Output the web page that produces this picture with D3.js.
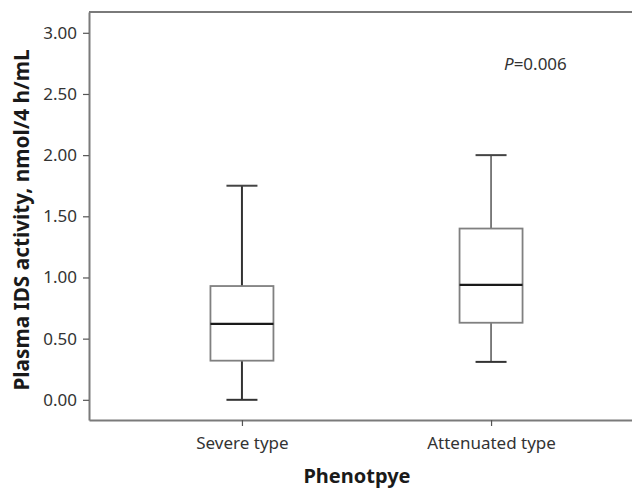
<!DOCTYPE html>
<html>
<head>
<meta charset="utf-8">
<script src="https://cdn.jsdelivr.net/npm/d3@7"></script>
<style>
  body { margin: 0; background: #fff; }
  svg { display: block; }
</style>
</head>
<body>
<svg id="chart"></svg>
<script>
// DATA
const categories = ["Severe type", "Attenuated type"];
const whiskerLow = [0.00, 0.31];
const q1 = [0.32, 0.63];
const medians = [0.62, 0.94];
const q3 = [0.93, 1.40];
const whiskerHigh = [1.75, 2.00];
const yTicks = [0, 0.5, 1, 1.5, 2, 2.5, 3];
const pLabel = "0.006";

// SIZE
const W = 632, H = 489;
const margin = { top: 12, right: -12, bottom: 69, left: 89 };
const width = W - margin.left - margin.right;
const height = H - margin.top - margin.bottom;

const svg = d3.select("#chart").attr("width", W).attr("height", H);
const g = svg.append("g").attr("transform", `translate(${margin.left},${margin.top})`);

const font = "'Noto Sans', 'DejaVu Sans', sans-serif";

// SCALES
const x = d3.scalePoint().domain(categories).range([0, width]).padding(0.614);
const y = d3.scaleLinear().domain([-0.165, 3.17]).range([height, 0]);

// frame (top line)
g.append("line")
    .attr("x1", 0).attr("x2", width)
    .attr("y1", 0).attr("y2", 0)
    .attr("stroke", "#7a7a7a").attr("stroke-width", 2);

// Y axis
const yAxis = g.append("g")
    .call(d3.axisLeft(y).tickValues(yTicks).tickFormat(d3.format(".2f"))
        .tickSize(6).tickSizeOuter(0).tickPadding(6));
yAxis.select(".domain").attr("stroke", "#7a7a7a").attr("stroke-width", 2);
yAxis.selectAll(".tick line").attr("stroke", "#555").attr("stroke-width", 1.2);
yAxis.selectAll("text")
    .attr("font-family", font).attr("font-size", "17px").attr("fill", "#333");

// X axis
const xAxis = g.append("g")
    .attr("transform", `translate(0,${height})`)
    .call(d3.axisBottom(x).tickSize(6).tickSizeOuter(0).tickPadding(11));
xAxis.select(".domain").attr("stroke", "#7a7a7a").attr("stroke-width", 2);
xAxis.selectAll(".tick line").attr("stroke", "#555").attr("stroke-width", 1.2);
xAxis.selectAll("text")
    .attr("font-family", font).attr("font-size", "17px").attr("fill", "#333");

// BOXES
const boxW = 63, capW = 31;
const boxes = g.selectAll("g.box")
    .data(categories.map((c, i) => ({ c, i })))
    .enter().append("g")
    .attr("class", "box")
    .attr("transform", d => `translate(${x(d.c)},0)`);

// whiskers
boxes.append("line")
    .attr("x1", 0).attr("x2", 0)
    .attr("y1", d => y(whiskerHigh[d.i])).attr("y2", d => y(q3[d.i]))
    .attr("stroke", d => d.i === 0 ? "#333" : "#555").attr("stroke-width", d => d.i === 0 ? 2 : 1.5);
boxes.append("line")
    .attr("x1", 0).attr("x2", 0)
    .attr("y1", d => y(q1[d.i])).attr("y2", d => y(whiskerLow[d.i]))
    .attr("stroke", d => d.i === 0 ? "#333" : "#555").attr("stroke-width", d => d.i === 0 ? 2 : 1.5);
// caps
boxes.append("line")
    .attr("x1", -capW / 2).attr("x2", capW / 2)
    .attr("y1", d => y(whiskerHigh[d.i])).attr("y2", d => y(whiskerHigh[d.i]))
    .attr("stroke", "#444").attr("stroke-width", 2);
boxes.append("line")
    .attr("x1", -capW / 2).attr("x2", capW / 2)
    .attr("y1", d => y(whiskerLow[d.i])).attr("y2", d => y(whiskerLow[d.i]))
    .attr("stroke", "#333").attr("stroke-width", 2);
// box
boxes.append("rect")
    .attr("x", -boxW / 2)
    .attr("y", d => y(q3[d.i]))
    .attr("width", boxW)
    .attr("height", d => y(q1[d.i]) - y(q3[d.i]))
    .attr("fill", "#fff")
    .attr("stroke", "#808080").attr("stroke-width", 1.8);
// median
boxes.append("line")
    .attr("x1", -boxW / 2).attr("x2", boxW / 2)
    .attr("y1", d => y(medians[d.i])).attr("y2", d => y(medians[d.i]))
    .attr("stroke", "#1a1a1a").attr("stroke-width", 2.2);

// P value
const pText = g.append("text")
    .attr("x", 415).attr("y", 58)
    .attr("font-family", font).attr("font-size", "17px").attr("fill", "#333");
pText.append("tspan").attr("font-style", "italic").text("P");
pText.append("tspan").text("=" + pLabel);

// AXIS TITLES
svg.append("text")
    .attr("transform", `translate(29,${(48 + 392) / 2}) rotate(-90)`)
    .attr("text-anchor", "middle")
    .attr("font-family", font).attr("font-size", "20.8px").attr("font-weight", "bold")
    .attr("fill", "#1a1a1a")
    .text("Plasma IDS activity, nmol/4 h/mL");

svg.append("text")
    .attr("x", 357).attr("y", 483)
    .attr("text-anchor", "middle")
    .attr("font-family", font).attr("font-size", "20px").attr("font-weight", "bold")
    .attr("fill", "#1a1a1a")
    .text("Phenotpye");
</script>
</body>
</html>
